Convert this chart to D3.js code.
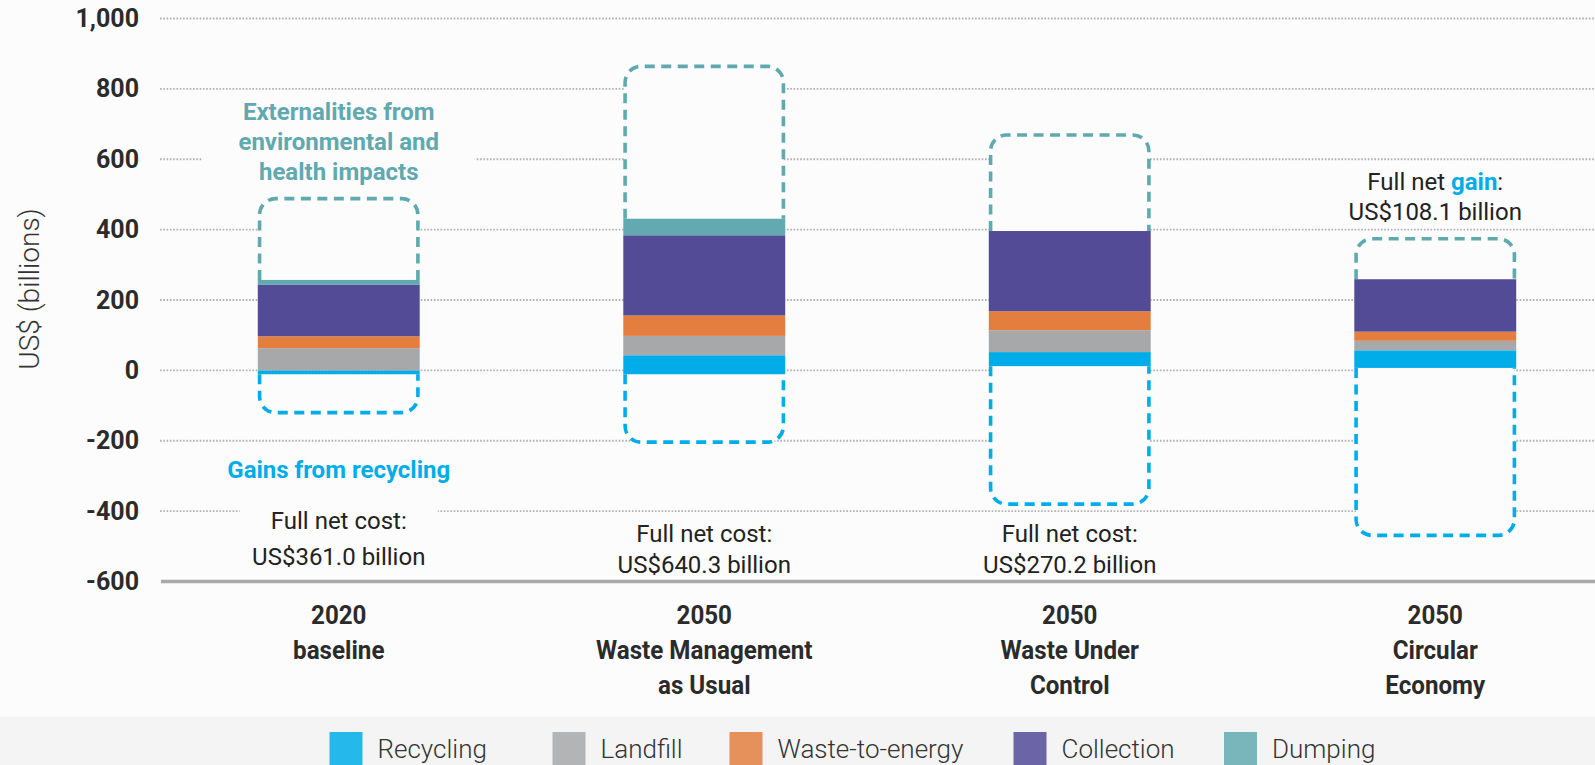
<!DOCTYPE html>
<html>
<head>
<meta charset="utf-8">
<script src="https://cdn.jsdelivr.net/npm/d3@7"></script>
<style>
  html, body { margin: 0; padding: 0; background: #fcfcfc; }
  svg { display: block; font-family: Roboto, "Noto Sans", sans-serif; }
</style>
</head>
<body>
<svg id="chart" width="1595" height="765"></svg>
<script>
// scenarios on the x axis
const years = ["2020", "2050", "2050", "2050"];
const scenarioNames = [["baseline"], ["Waste Management", "as Usual"], ["Waste Under", "Control"], ["Circular", "Economy"]];
const categories = years.map((y, i) => y + " " + scenarioNames[i].join(" "));

// US$ billions
const stackBase  = [-11, -11, 12, 7];
const recycling  = [11, 54, 40, 50];
const landfill   = [63, 55, 62, 27];
const wasteToEnergy = [34, 58, 54, 26];
const collection = [146, 228, 228, 149];
const dumping    = [14, 47, 0, 0];
const externalitiesTop = [488, 864, 669, 374];
const gainsBottom = [-120, -204, -380, -469];

const netLine1 = ["Full net cost:", "Full net cost:", "Full net cost:", "Full net gain:"];
const netLine2 = ["US$361.0 billion", "US$640.3 billion", "US$270.2 billion", "US$108.1 billion"];
const netAnchor = [-452, -488, -488, 514]; // value where the first line sits

const yTicks = [1000, 800, 600, 400, 200, 0, -200, -400, -600];
const yTickLabels = ["1,000", "800", "600", "400", "200", "0", "-200", "-400", "-600"];

const seriesNames = ["Recycling", "Landfill", "Waste-to-energy", "Collection", "Dumping"];
const seriesData = [recycling, landfill, wasteToEnergy, collection, dumping];
const colors = ["#00ade9", "#a7a8aa", "#e37e3f", "#534b96", "#62aab0"];
const legendX = [329.5, 552.5, 729.5, 1013.5, 1224];

const BG = "#fcfcfc";
const TEAL = "#5fa9af";
const BLUE = "#00ade9";

const svg = d3.select("#chart");
svg.append("rect").attr("width", 1595).attr("height", 765).attr("fill", BG);
svg.append("rect").attr("y", 717).attr("width", 1595).attr("height", 48).attr("fill", "#f4f4f4");

const x = d3.scaleBand().domain(categories).range([156, 1618]).paddingInner(0.557).paddingOuter(0.2785);
const y = d3.scaleLinear().domain([-600, 1000]).range([581.5, 18.5]);

// gridlines
svg.append("g").selectAll("line")
  .data(yTicks.filter(d => d > -600))
  .join("line")
  .attr("x1", 160).attr("x2", 1595)
  .attr("y1", d => y(d)).attr("y2", d => y(d))
  .attr("stroke", "#b0b0b0").attr("stroke-width", 1.8)
  .attr("stroke-dasharray", "1.6 1.7");

svg.append("line")
  .attr("x1", 161).attr("x2", 1595)
  .attr("y1", y(-600)).attr("y2", y(-600))
  .attr("stroke", "#a9a9a9").attr("stroke-width", 3.5);

// y axis
const yAxis = svg.append("g")
  .attr("transform", "translate(160,0)")
  .call(d3.axisLeft(y).tickValues(yTicks).tickSize(0).tickPadding(21)
    .tickFormat((d, i) => yTickLabels[i]));
yAxis.select(".domain").remove();
yAxis.selectAll("text")
  .attr("font-family", "Roboto").attr("font-weight", 700)
  .attr("font-size", 25).attr("fill", "#2b2b2b");

svg.append("text")
  .attr("transform", "translate(39,289) rotate(-90)")
  .attr("text-anchor", "middle")
  .attr("font-size", 28).attr("font-weight", 300).attr("fill", "#333")
  .text("US$ (billions)");

// annotation text backgrounds that cut the gridlines
const c0 = x(categories[0]) + x.bandwidth() / 2;
svg.append("rect").attr("x", c0 - 136).attr("y", 96).attr("width", 272).attr("height", 92).attr("fill", BG);
svg.append("rect").attr("x", c0 - 99).attr("y", 498).attr("width", 198).attr("height", 76).attr("fill", BG);

// dashed boxes
const r = 16, inset = 1.8;
function boxPath(x0, x1, yStart, yEnd) {
  const dir = yEnd < yStart ? -1 : 1;
  const p = d3.path();
  p.moveTo(x0, yStart);
  p.lineTo(x0, yEnd - dir * r);
  p.arcTo(x0, yEnd, x0 + r, yEnd, r);
  p.lineTo(x1 - r, yEnd);
  p.arcTo(x1, yEnd, x1, yEnd - dir * r, r);
  p.lineTo(x1, yStart);
  return p.toString();
}

const stackTop = categories.map((c, i) => stackBase[i] + d3.sum(seriesData, s => s[i]));

categories.forEach((c, i) => {
  const x0 = x(c) + inset, x1 = x(c) + x.bandwidth() - inset;
  svg.append("path")
    .attr("d", boxPath(x0, x1, y(stackTop[i]), y(externalitiesTop[i])))
    .attr("fill", BG).attr("stroke", TEAL).attr("stroke-width", 3.6)
    .attr("stroke-dasharray", "10 6.5");
  svg.append("path")
    .attr("d", boxPath(x0, x1, y(stackBase[i]), y(gainsBottom[i])))
    .attr("fill", BG).attr("stroke", BLUE).attr("stroke-width", 3.6)
    .attr("stroke-dasharray", "10 6.5");
});

// stacked bars
const rows = categories.map((c, i) => {
  const row = { cat: c, base: stackBase[i] };
  seriesNames.forEach((s, k) => row[s] = seriesData[k][i]);
  return row;
});
const stacked = d3.stack().keys(seriesNames)(rows);
svg.append("g").selectAll("g")
  .data(stacked)
  .join("g")
  .attr("fill", (d, k) => colors[k])
  .selectAll("rect")
  .data(d => d)
  .join("rect")
  .attr("x", d => x(d.data.cat))
  .attr("width", x.bandwidth())
  .attr("y", d => y(d.data.base + d[1]))
  .attr("height", d => y(d.data.base + d[0]) - y(d.data.base + d[1]));

// annotation labels
const ext = svg.append("text").attr("text-anchor", "middle")
  .attr("font-size", 24).attr("font-weight", 700).attr("fill", TEAL);
["Externalities from", "environmental and", "health impacts"].forEach((t, k) => {
  ext.append("tspan").attr("x", c0).attr("y", 120 + k * 30).text(t);
});
svg.append("text").attr("text-anchor", "middle").attr("x", c0).attr("y", 478)
  .attr("font-size", 24).attr("font-weight", 700).attr("fill", BLUE)
  .text("Gains from recycling");

categories.forEach((c, i) => {
  const cx = x(c) + x.bandwidth() / 2;
  const y1 = y(netAnchor[i]);
  const gap = i === 0 ? 36 : 30.5;
  const t = svg.append("text").attr("text-anchor", "middle")
    .attr("font-size", 24).attr("fill", "#222");
  const l1 = t.append("tspan").attr("x", cx).attr("y", y1);
  if (netLine1[i].includes("gain")) {
    l1.append("tspan").text("Full net ");
    l1.append("tspan").attr("font-weight", 700).attr("fill", BLUE).text("gain");
    l1.append("tspan").text(":");
  } else {
    l1.text(netLine1[i]);
  }
  t.append("tspan").attr("x", cx).attr("y", y1 + gap).text(netLine2[i]);
});

// x category labels
categories.forEach((c, i) => {
  const cx = x(c) + x.bandwidth() / 2;
  const g = svg.append("g").attr("transform", `translate(${cx},0) scale(0.93,1)`);
  const t = g.append("text").attr("text-anchor", "middle")
    .attr("font-size", 26).attr("font-weight", 700).attr("fill", "#2b2b2b");
  [years[i]].concat(scenarioNames[i]).forEach((line, k) => {
    t.append("tspan").attr("x", 0).attr("y", 624 + k * 35).text(line);
  });
});

// legend
const legend = svg.append("g").selectAll("g")
  .data(seriesNames)
  .join("g")
  .attr("transform", (d, k) => `translate(${legendX[k]},0)`);
legend.append("rect").attr("y", 732).attr("width", 33).attr("height", 40)
  .attr("fill", (d, k) => colors[k]).attr("opacity", 0.85);
legend.append("text").attr("x", 48).attr("y", 758)
  .attr("font-size", 26).attr("font-weight", 300).attr("fill", "#333")
  .text(d => d);
</script>
</body>
</html>
